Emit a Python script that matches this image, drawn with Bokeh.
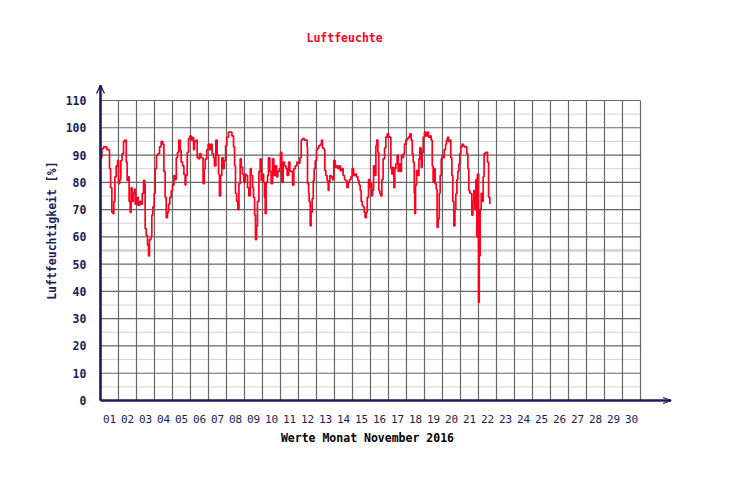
import math
from bokeh.plotting import figure
from bokeh.core.properties import value
from bokeh.embed import file_html
from bokeh.resources import INLINE

# ---------------- data ----------------
# time in days since 1 Nov 2016 00:00, relative humidity in %
t_day = [
    0.0, 0.075, 0.17, 0.35, 0.45, 0.5, 0.56, 0.63, 0.69, 0.74, 0.80, 0.87, 0.95,
    1.0, 1.06, 1.13, 1.20, 1.28, 1.35, 1.43, 1.48, 1.54, 1.59, 1.65, 1.70, 1.76,
    1.82, 1.89, 1.93, 2.02, 2.09, 2.17, 2.24, 2.32, 2.39, 2.45, 2.48, 2.54, 2.61,
    2.67, 2.72, 2.80, 2.85, 2.91, 2.98, 3.04, 3.11, 3.19, 3.28, 3.37, 3.45, 3.52,
    3.59, 3.65, 3.72, 3.78, 3.85, 3.93, 4.0, 4.08, 4.15, 4.21, 4.28, 4.35, 4.43,
    4.48, 4.56, 4.63, 4.70, 4.74, 4.82, 4.89, 4.96, 5.04, 5.11, 5.17, 5.22, 5.30,
    5.37, 5.45, 5.50, 5.58, 5.65, 5.70, 5.76, 5.82, 5.91, 5.98, 6.06, 6.13, 6.20,
    6.28, 6.33, 6.41, 6.48, 6.56, 6.61, 6.67, 6.74, 6.82, 6.87, 6.95, 7.02, 7.11,
    7.20, 7.30, 7.39, 7.45, 7.50, 7.56, 7.63, 7.69, 7.76, 7.82, 7.89, 7.96, 8.04,
    8.09, 8.17, 8.24, 8.32, 8.37, 8.45, 8.50, 8.56, 8.61, 8.67, 8.72, 8.80, 8.87,
    8.93, 9.0, 9.06, 9.11, 9.15, 9.20, 9.28, 9.33, 9.41, 9.48, 9.56, 9.63, 9.70,
    9.78, 9.85, 9.93, 10.0, 10.07, 10.15, 10.22, 10.30, 10.37, 10.45, 10.52,
    10.59, 10.67, 10.74, 10.82, 10.91, 11.0,
    11.08, 11.15, 11.22, 11.33, 11.41, 11.48, 11.5, 11.56, 11.59, 11.65, 11.70,
    11.76, 11.82, 11.87, 11.93, 12.0, 12.07, 12.13, 12.22, 12.28, 12.33, 12.41,
    12.46, 12.52, 12.59, 12.65, 12.69, 12.74, 12.82, 12.89, 12.96, 13.04, 13.11,
    13.19, 13.26, 13.33, 13.41, 13.48, 13.56, 13.61, 13.69, 13.76, 13.83, 13.91,
    13.98, 14.06, 14.13, 14.22, 14.30, 14.37, 14.43, 14.48, 14.54, 14.59, 14.65,
    14.70, 14.76, 14.82, 14.89, 14.95, 15.0, 15.06, 15.11, 15.17, 15.24, 15.30,
    15.35, 15.41, 15.46, 15.52, 15.57, 15.63, 15.70, 15.78, 15.85, 15.93, 16.0,
    16.07, 16.13, 16.19, 16.24, 16.30, 16.35, 16.41, 16.48, 16.54, 16.59, 16.67,
    16.72, 16.78, 16.83, 16.89, 16.96, 17.04, 17.11, 17.19, 17.26, 17.32, 17.37,
    17.43, 17.46, 17.5, 17.56, 17.63, 17.69, 17.74, 17.82, 17.87, 17.93, 18.0,
    18.07, 18.15, 18.22, 18.30, 18.37, 18.43, 18.48, 18.54, 18.59, 18.65, 18.70,
    18.76, 18.82, 18.87, 18.93, 18.98, 19.04, 19.09, 19.17, 19.22, 19.28, 19.33,
    19.41, 19.46, 19.52, 19.57, 19.63, 19.69, 19.74, 19.80, 19.85, 19.91, 19.96,
    20.02, 20.09, 20.15, 20.20, 20.28, 20.35, 20.41, 20.46, 20.52, 20.57, 20.63,
    20.69, 20.74, 20.80, 20.85, 20.91, 20.94, 21.0, 21.04, 21.09, 21.15, 21.20,
    21.26, 21.31, 21.39, 21.45, 21.50, 21.56, 21.63,
]
humidity = [
    89, 92.3, 93, 92, 92, 85, 78, 69, 68.5, 73, 82, 86, 88,
    79.5, 81, 88, 90.5, 95, 95.5, 87.4, 80.7, 82, 73, 69, 78, 73,
    76, 77.5, 72, 74.5, 71.5, 73, 72, 76, 80.7, 79.5, 63, 60.5, 57,
    53, 59, 60, 68, 71, 76, 85, 90, 90.5, 93, 95, 94, 84,
    74.5, 67, 69, 72, 74.5, 77, 79, 82.5, 81, 89, 91, 95.5, 91.7,
    87.4, 86, 83, 79, 82.5, 91, 96, 97, 95.5, 96.5, 92, 95, 95.5,
    89, 88.6, 90.5, 89, 89, 79.5, 85, 88.6, 92, 94, 92, 94, 90.5,
    89, 86, 95.5, 90, 83, 75, 82.5, 89, 85, 88, 93.5, 96.6, 98.4,
    98.4, 97, 93, 86, 76, 73, 70, 79.5, 88.6, 85.5, 83, 80, 83,
    82.5, 78, 75, 85, 82.5, 78, 74.5, 68, 59, 64, 73, 84, 88.6,
    80.7, 83, 80, 74.5, 68.5, 80, 82.5, 89, 84, 79.5, 88.6, 82.5, 86,
    82, 84, 85, 91, 80, 87.4, 86, 85, 82.5, 87.4, 84,
    84, 79, 85, 86, 87.4, 87,
    89, 95.5, 96, 95.5, 95.5, 93, 79.5, 76, 73, 64, 69,
    74, 80.6, 85, 88, 92, 92.6, 93.5, 94, 95.5, 92.6, 92,
    84.3, 82.5, 80.6, 77, 80, 82.5, 82, 81, 88, 85.5, 86,
    85, 86, 84.3, 85, 82.5, 81, 80.6, 78, 80, 81, 82,
    85, 82.5, 83, 82, 80.6, 79, 77, 73, 71.5, 71, 69,
    67, 69, 74.5, 81, 78, 79.5, 75, 77, 86, 82.5, 93.5,
    95.5, 91, 77, 75.8, 75, 81, 88.6, 92.6, 96.6, 97.8, 96.6,
    96.6, 85, 83, 85.5, 78, 85, 86.8, 90, 84, 86.8, 84,
    90, 89, 90.5, 94, 95.5, 96, 96.6, 97.8, 95.5, 90.5, 87.4,
    76, 68.5, 79, 84.3, 82.5, 88.6, 92.6, 85.5, 91, 96.6, 98.4,
    97, 98.4, 96.6, 97, 95.5, 86, 80, 85, 79.5, 77.5, 63.5,
    66.6, 76, 82.5, 88.6, 90, 89, 92, 94, 95.5, 96.6, 95,
    95.5, 89, 82.5, 73, 64, 70, 75.8, 81, 84, 86.8, 90.5,
    93, 94, 93.5, 93, 93, 90.5, 85, 77, 76, 75.8, 68,
    73, 77, 70, 81, 60, 83, 36, 53, 70, 76, 73,
    82, 90.5, 91, 91, 87.4, 74.5, 72,
]

day_ticks = [d + 0.5 for d in range(30)]
day_labels = ["%02d" % (d + 1) for d in range(30)]
day_lines = list(range(0, 31))
y_major = list(range(0, 111, 10))
y_labels = [str(v) for v in y_major]
y_minor = list(range(5, 110, 10))
y_emph = [55]

title_text = "Luftfeuchte"
x_title = "Werte Monat November 2016"
y_title = "Luftfeuchtigkeit [%]"

# ---------------- styling ----------------
NAVY = "#1c1c5c"
RED = "#ff0020"
GRID = "#666666"
LIGHT = "#d3d3d3"
FONT = "DejaVu Sans Mono"

X0, X1 = day_lines[0], day_lines[-1]
Y0, Y1 = y_major[0], y_major[-1]

# the whole canvas is the plot frame: 18 px per day, 300 px per 110 %
p = figure(frame_width=740, frame_height=490, output_backend="svg",
           toolbar_location=None,
           x_range=(-100 / 18, 640 / 18), y_range=(-90 * 110 / 300, 400 * 110 / 300),
           min_border=0)
p.background_fill_color = "white"
p.border_fill_color = "white"
p.outline_line_color = None
p.grid.visible = False
p.axis.visible = False

# grid (limited to the 0..30 day / 0..110 % box)
p.segment(x0=X0, x1=X1, y0=y_minor, y1=y_minor, line_color=LIGHT, line_width=1)
p.segment(x0=X0, x1=X1, y0=y_emph, y1=y_emph, line_color=LIGHT, line_width=2.5)
p.segment(x0=day_lines, x1=day_lines, y0=Y0, y1=Y1, line_color=GRID, line_width=1.2)
p.segment(x0=X0, x1=X1, y0=y_major, y1=y_major, line_color=GRID, line_width=1.2)

# data line
p.step(t_day, humidity, mode="after", line_color=RED, line_width=1.7)

# axis lines with open arrow heads
p.line([X0, X0], [Y0, 115.6], line_color=NAVY, line_width=2.6)
p.line([X0 - 0.22, X0, X0 + 0.22], [112.6, 115.6, 112.6], line_color=NAVY, line_width=1.3)
p.line([X0, 31.7], [Y0, Y0], line_color=NAVY, line_width=2.6)
p.line([31.25, 31.7, 31.25], [1.1, Y0, -1.1], line_color=NAVY, line_width=1.3)

# tick labels
p.text(x=-0.78, y=y_major, text=y_labels, text_color=NAVY,
       text_font=value(FONT), text_font_style="bold", text_font_size="11.5px",
       text_align="right", text_baseline="middle")
p.text(x=day_ticks, y=-6.6, text=day_labels, text_color=NAVY,
       text_font=value(FONT), text_font_size="11px",
       text_align="center", text_baseline="middle")

# axis titles and chart title
p.text(x=[14.83], y=[-13.57], text=[x_title], text_color="black",
       text_font=value(FONT), text_font_style="bold", text_font_size="11.5px",
       text_align="center", text_baseline="middle")
p.text(x=[-2.67], y=[62.3], text=[y_title], text_color=NAVY, angle=math.pi / 2,
       text_font=value(FONT), text_font_style="bold", text_font_size="11.5px",
       text_align="center", text_baseline="middle")
p.text(x=[13.56], y=[133.1], text=[title_text], text_color=RED,
       text_font=value(FONT), text_font_style="bold",
       text_font_size="11.5px", text_align="center", text_baseline="middle")

open("out.html", "w").write(file_html(p, INLINE))
